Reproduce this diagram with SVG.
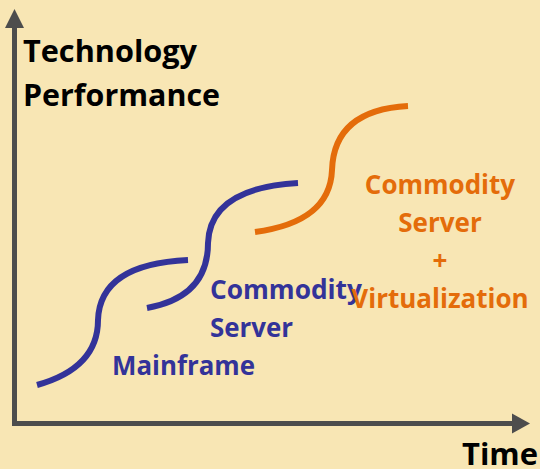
<svg xmlns="http://www.w3.org/2000/svg" width="540" height="469" viewBox="0 0 540 469">
  <style>
    .axis { fill: none; stroke: #4D4D4D; stroke-width: 5; stroke-linejoin: miter; }
    .head { fill: #4D4D4D; }
    .curve { fill: none; stroke-width: 6; stroke-linecap: butt; }
    .blue { stroke: #333399; }
    .orange { stroke: #E46C0A; }
    .t { font-family: "Open Sans", "Liberation Sans", sans-serif; font-weight: bold; }
    .big { font-size: 31px; fill: #000000; }
    .lbl { font-size: 26px; }
    .lb { fill: #333399; }
    .lo { fill: #E46C0A; }
  </style>
  <rect x="0" y="0" width="540" height="469" fill="#F8E6B4"/>
  <g id="axes">
    <path class="axis" d="M14.5,27 V423.5 H513"/>
    <polygon class="head" points="14.5,9 5,28 24,28"/>
    <polygon class="head" points="530,423.5 512,413.5 512,433.5"/>
  </g>
  <g id="curves">
    <path id="curve-mainframe" class="curve blue" d="M37,385 Q98,368 98,320 Q100,264 188,260"/>
    <path id="curve-server" class="curve blue" d="M147,308 Q208,297 208,243 Q210,188 298,183"/>
    <path id="curve-virtualization" class="curve orange" d="M255,232 Q330,222 332,170 Q334,110 408,106"/>
  </g>
  <g id="axis-labels" class="t big">
    <text x="23" y="62" textLength="174" lengthAdjust="spacingAndGlyphs">Technology</text>
    <text x="23" y="106" textLength="197" lengthAdjust="spacingAndGlyphs">Performance</text>
    <text x="462" y="465" textLength="76" lengthAdjust="spacingAndGlyphs">Time</text>
  </g>
  <g id="label-mainframe" class="t lbl lb">
    <text x="112" y="375" textLength="143" lengthAdjust="spacingAndGlyphs">Mainframe</text>
  </g>
  <g id="label-server" class="t lbl lb">
    <text x="210" y="299" textLength="152" lengthAdjust="spacingAndGlyphs">Commodity</text>
    <text x="210" y="337" textLength="83" lengthAdjust="spacingAndGlyphs">Server</text>
  </g>
  <g id="label-virtualization" class="t lbl lo" text-anchor="middle">
    <text x="440" y="194">Commodity</text>
    <text x="440" y="232">Server</text>
    <text x="440" y="270">+</text>
    <text x="440" y="308">Virtualization</text>
  </g>
</svg>
